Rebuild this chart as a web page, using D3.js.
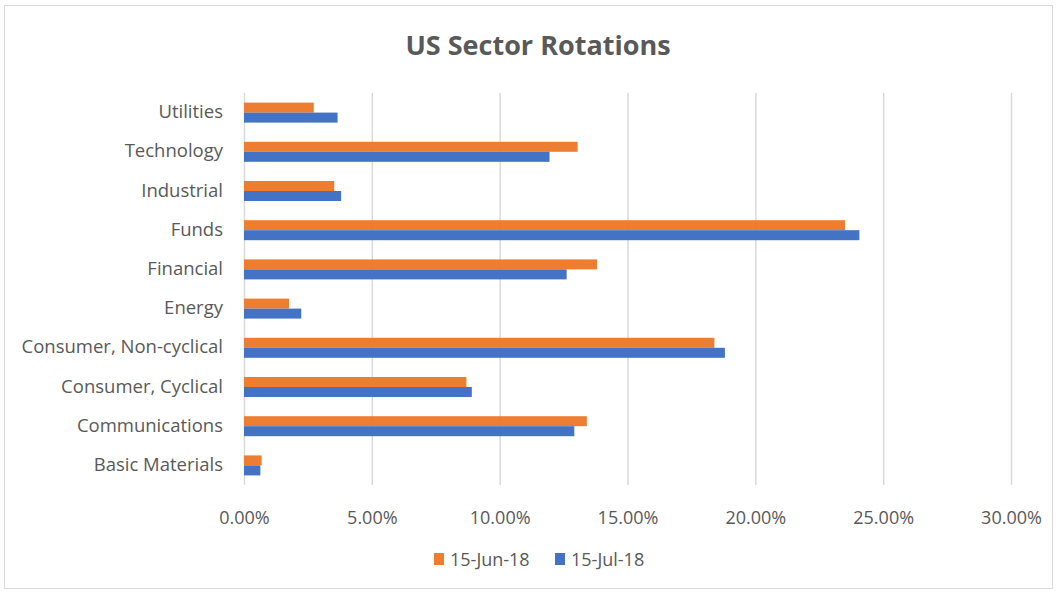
<!DOCTYPE html>
<html><head><meta charset="utf-8">
<script src="https://cdn.jsdelivr.net/npm/d3@7"></script>
<style>body{margin:0;background:#fff;} svg{display:block;}</style>
</head><body>
<script>
const categories = ["Utilities","Technology","Industrial","Funds","Financial","Energy","Consumer, Non-cyclical","Consumer, Cyclical","Communications","Basic Materials"];
const seriesNames = ["15-Jun-18","15-Jul-18"];
const jun18 = [2.73,13.05,3.53,23.51,13.81,1.76,18.40,8.70,13.41,0.69];
const jul18 = [3.66,11.95,3.80,24.07,12.62,2.24,18.81,8.91,12.92,0.64];
const xTicks = [0,5,10,15,20,25,30];
const colors = ["#ED7D31","#4472C4"];

const W=1057,H=592;
const svg=d3.select("body").append("svg").attr("width",W).attr("height",H);
const font="'Open Sans', 'Noto Sans', sans-serif";
svg.append("rect").attr("x",4.5).attr("y",5.5).attr("width",1048).attr("height",583).attr("fill","#fff").attr("stroke","#d9d9d9");

const pL=244,pR=1011,pT=93,pB=485;
const x=d3.scaleLinear().domain([0,30]).range([pL,pR]);
const y=d3.scaleBand().domain(categories).range([pT,pB]).paddingInner(0.49).paddingOuter(0.245);
const y2=d3.scaleBand().domain(seriesNames).range([0,y.bandwidth()]);

svg.append("text").attr("x",538).attr("y",55).attr("text-anchor","middle").attr("font-family",font).attr("font-weight","bold").attr("font-size",27).attr("fill","#595959").text("US Sector Rotations");

const g=svg.append("g");
g.selectAll("line.grid").data(xTicks).join("line").attr("x1",d=>x(d)+0.5).attr("x2",d=>x(d)+0.5).attr("y1",pT).attr("y2",pB).attr("stroke","#d9d9d9").attr("stroke-width",1.5);

const series=[jun18,jul18];
series.forEach((vals,si)=>{
  g.selectAll(null).data(categories).join("rect")
    .attr("x",x(0)).attr("y",(d)=>y(d)+y2(seriesNames[si]))
    .attr("width",(d,i)=>x(vals[i])-x(0)).attr("height",y2.bandwidth())
    .attr("fill",colors[si]);
});

const xAxis=d3.axisBottom(x).tickValues(xTicks).tickFormat(d=>d.toFixed(2)+"%").tickSize(0).tickPadding(0);
const ax=svg.append("g").attr("transform",`translate(0,${pB+39})`).call(xAxis);
ax.select(".domain").remove();
ax.selectAll("text").attr("font-family",font).attr("font-size",18).attr("fill","#595959").attr("dy",0);

const yAxis=d3.axisLeft(y).tickSize(0).tickPadding(22);
const ay=svg.append("g").attr("transform",`translate(${pL+1},0)`).call(yAxis);
ay.select(".domain").remove();
ay.selectAll("text").attr("font-family",font).attr("font-size",18.5).attr("fill","#595959").attr("dy","0.3em");

const leg=svg.append("g");
const legX=[434,555];
seriesNames.forEach((n,i)=>{
  leg.append("rect").attr("x",legX[i]).attr("y",553).attr("width",10).attr("height",12).attr("fill",colors[i]);
  leg.append("text").attr("x",legX[i]+16).attr("y",566).attr("font-family",font).attr("font-size",18).attr("fill","#595959").text(n);
});
</script>
</body></html>
